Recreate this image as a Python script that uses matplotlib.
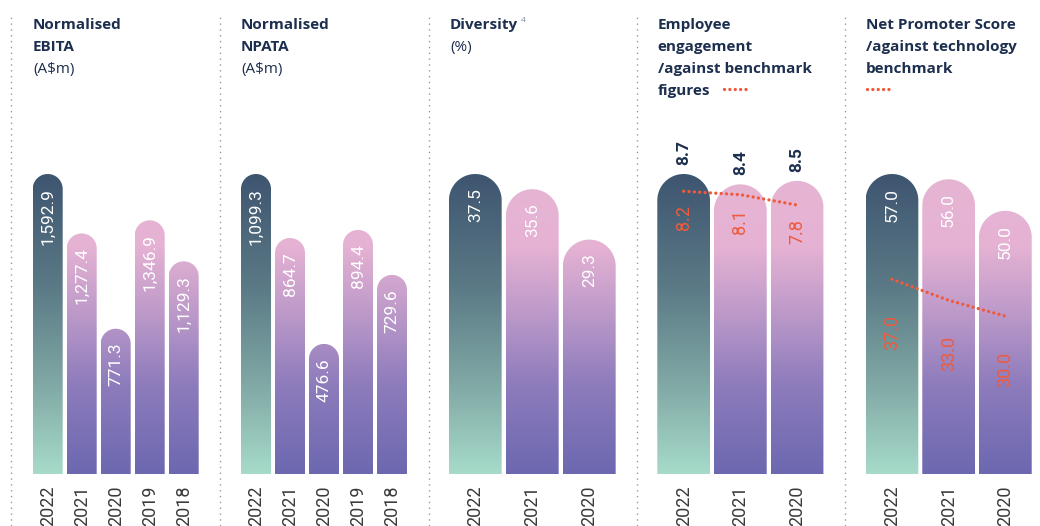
import numpy as np
import matplotlib.pyplot as plt
from matplotlib.colors import LinearSegmentedColormap
from matplotlib.path import Path
from matplotlib.patches import PathPatch
from matplotlib.lines import Line2D
from matplotlib.transforms import offset_copy

# data
years5 = ['2022', '2021', '2020', '2019', '2018']
years3 = ['2022', '2021', '2020']
ebita = [1592.9, 1277.4, 771.3, 1346.9, 1129.3]
npata = [1099.3, 864.7, 476.6, 894.4, 729.6]
diversity = [37.5, 35.6, 29.3]
engagement = [8.7, 8.4, 8.5]
engagement_bench = [8.2, 8.1, 7.8]
nps = [57.0, 56.0, 50.0]
nps_bench = [37.0, 33.0, 30.0]

W, H = 1040, 526
BASE, TOP = 474, 174   # pixel rows of bar baseline and tallest bar top
NAVY = '#1d2f4f'
ORANGE = '#ef5a3c'

dark_cm = LinearSegmentedColormap.from_list('dark', [
    (0.0, '#a6dbc9'), (0.3, '#80a8a5'), (0.62, '#5b7a86'), (1.0, '#3e5570')])
pink_cm = LinearSegmentedColormap.from_list('pink', [
    (0.0, '#6c68b0'), (0.3, '#8e7cbc'), (0.55, '#bf9bca'), (0.76, '#e5b2d3'), (1.0, '#e7b5d4')])

plt.rcParams['font.family'] = ['Roboto', 'DejaVu Sans']
fig = plt.figure(figsize=(W / 100, H / 100), dpi=100)


def fmt(v, dec=1):
    return f'{v:,.{dec}f}'


def rounded_bar(ax, i, v, w, ymax, cmap):
    bb = ax.get_position()
    x0, x1 = ax.get_xlim()
    dx = (x1 - x0) / (bb.width * W)
    dy = ymax / (bb.height * H)
    ry = (w / dx / 2) * dy
    t = np.linspace(np.pi, 0, 60)
    xs = np.concatenate([[i - w / 2], i + w / 2 * np.cos(t), [i + w / 2, i - w / 2]])
    ys = np.concatenate([[0], v - ry + ry * np.sin(t), [0, 0]])
    patch = PathPatch(Path(np.column_stack([xs, ys])), facecolor='none', edgecolor='none')
    ax.add_patch(patch)
    grad = np.linspace(0, 1, 256).reshape(-1, 1)
    im = ax.imshow(grad, extent=(i - w / 2, i + w / 2, 0, ymax), origin='lower',
                   aspect='auto', cmap=cmap, zorder=2)
    im.set_clip_path(patch)


def panel(left, pitch, w, years, vals, bench=None, inside=True, bench_off=16):
    n = len(vals)
    ax = fig.add_axes([left / W, (H - BASE) / H, pitch * n / W, (BASE - TOP) / H])
    ymax = max(vals)
    ax.set_xlim(-0.5, n - 0.5)
    ax.set_ylim(0, ymax)
    ax.set_autoscale_on(False)
    ax.axis('off')
    below = offset_copy(ax.transData, fig=fig, y=-14, units='dots')
    above = offset_copy(ax.transData, fig=fig, y=9, units='dots')
    for i, v in enumerate(vals):
        rounded_bar(ax, i, v, w, ymax, dark_cm if i == 0 else pink_cm)
        if inside:
            ax.text(i, v, fmt(v), transform=below, rotation=90, ha='center', va='top',
                    color='white', fontsize=12.5, zorder=4)
        else:
            ax.text(i, v, fmt(v), transform=above, rotation=90, ha='center', va='bottom',
                    color=NAVY, fontsize=12.5, fontweight='bold', zorder=4)
        ax.text(i, 0, years[i], transform=offset_copy(ax.transData, fig=fig, y=-12, units='dots'),
                rotation=90, ha='center', va='top', color='#3a3a3a', fontsize=13)
    if bench is not None:
        xs = np.arange(n)
        ax.plot(xs, bench, color=ORANGE, lw=2.4, linestyle=(0, (0.01, 1.6)),
                dash_capstyle='round', zorder=5)
        boff = offset_copy(ax.transData, fig=fig, y=-bench_off, units='dots')
        for i, b in enumerate(bench):
            ax.text(i, b, fmt(b), transform=boff, rotation=90, ha='center', va='top',
                    color=ORANGE, fontsize=13, zorder=4)
    ax.patch.set_visible(False)
    return ax


panel(30.7, 34, 0.882, years5, ebita)
panel(239.0, 34, 0.882, years5, npata)
panel(446.8, 57, 0.925, years3, diversity)
panel(655.3, 56.7, 0.93, years3, engagement, engagement_bench, inside=False, bench_off=14)
panel(863.6, 56.7, 0.93, years3, nps, nps_bench, bench_off=36)

# dotted separators
for sx in [11, 220, 428.5, 636.7, 845]:
    fig.add_artist(Line2D([sx / W, sx / W], [0, 1 - 14 / H], color='#9a9a9a', lw=1,
                          linestyle=(0, (1, 3.2))))

# titles
tfont = ['Open Sans', 'DejaVu Sans']


def title(x, lines):
    out = []
    for k, (txt, bold) in enumerate(lines):
        out.append(fig.text(x / W, 1 - (29 + 22 * k) / H, txt, family=tfont, fontsize=11,
                            fontweight='bold' if bold else 'normal', color=NAVY, va='baseline'))
    return out


title(33, [('Normalised', True), ('EBITA', True), ('(A$m)', False)])
title(241, [('Normalised', True), ('NPATA', True), ('(A$m)', False)])
div = title(450, [('Diversity', True), ('(%)', False)])
title(657.5, [('Employee', True), ('engagement', True), ('/against benchmark', True), ('figures', True)])
title(866, [('Net Promoter Score', True), ('/against technology', True), ('benchmark', True)])

# superscript after "Diversity"
r = fig.canvas.get_renderer()
ext = div[0].get_window_extent(r)
fig.text((ext.x1 + 3) / W, 1 - 22 / H, '4', family=tfont, fontsize=6, color='#7d8aa0', va='baseline')

# legend swatches for benchmark lines
for x0, yy in [(724, 89), (867, 89)]:
    fig.add_artist(Line2D([x0 / W, (x0 + 25) / W], [1 - yy / H, 1 - yy / H], color=ORANGE,
                          lw=2.4, linestyle=(0, (0.01, 1.6)), dash_capstyle='round'))

fig.savefig('out.png', dpi=100)
